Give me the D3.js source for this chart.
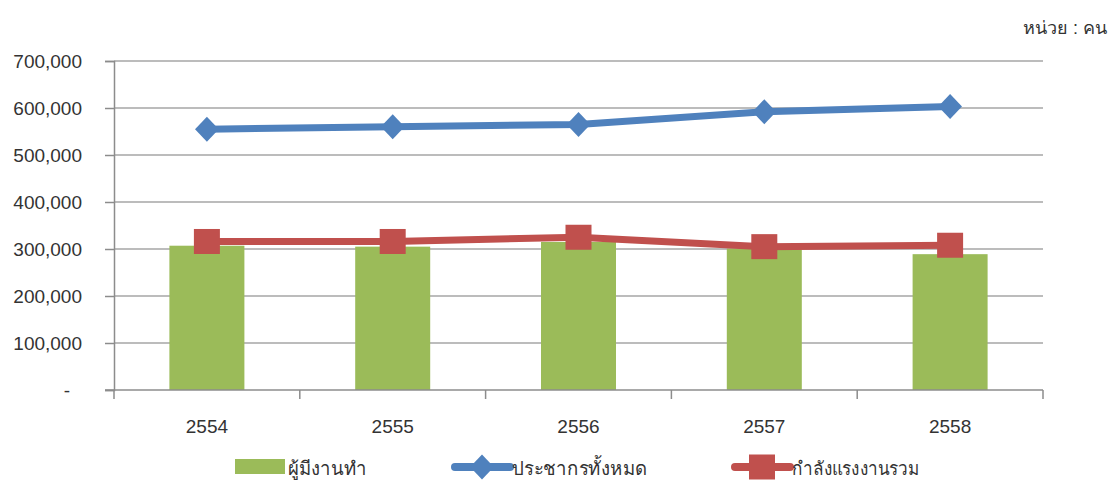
<!DOCTYPE html>
<html>
<head>
<meta charset="utf-8">
<script src="https://cdn.jsdelivr.net/npm/d3@7"></script>
<style>
  html, body { margin: 0; padding: 0; background: #fff; }
  svg { display: block; }
  text { font-family: "Liberation Sans", "Noto Sans", sans-serif; fill: #333; }
</style>
</head>
<body>
<svg id="chart" width="1109" height="482"></svg>
<script>
// ---- data ----
const years = ["2554", "2555", "2556", "2557", "2558"];
const employed = [307000, 305000, 315000, 301000, 289000];        // ผู้มีงานทำ (bars)
const population = [555000, 560000, 565000, 592000, 603000];      // ประชากรทั้งหมด (blue line)
const laborForce = [316000, 316000, 325000, 305000, 308000];      // กำลังแรงงานรวม (red line)
const yTicks = [0, 100000, 200000, 300000, 400000, 500000, 600000, 700000];
const seriesNames = ["ผู้มีงานทำ", "ประชากรทั้งหมด", "กำลังแรงงานรวม"];
const unitLabel = "หน่วย : คน";

// ---- layout ----
const colors = { green: "#9BBB59", blue: "#4F81BD", red: "#C0504D", grid: "#A6A6A6", axis: "#8C8C8C" };
const plotL = 114, plotR = 1043, plotT = 61, plotB = 390;
const svg = d3.select("#chart");

const xc = d3.scalePoint().domain(years).range([plotL, plotR]).padding(0.5);
const y = d3.scaleLinear().domain([0, 700000]).range([plotB, plotT]);

// gridlines
svg.append("g").selectAll("line").data(yTicks.filter(d => d > 0)).join("line")
  .attr("x1", plotL).attr("x2", plotR)
  .attr("y1", d => y(d)).attr("y2", d => y(d))
  .attr("stroke", colors.grid).attr("stroke-width", 1.5);

// y axis
const yAxis = d3.axisLeft(y).tickValues(yTicks).tickSize(9).tickPadding(23)
  .tickFormat(d => d === 0 ? "-" : d3.format(",")(d));
const gy = svg.append("g").attr("transform", `translate(${plotL},0)`).call(yAxis);
gy.select(".domain").attr("stroke", colors.axis).attr("stroke-width", 1.5);
gy.selectAll(".tick line").attr("stroke", colors.axis).attr("stroke-width", 1.5);
gy.selectAll(".tick text").attr("font-size", 19).attr("fill", "#333")
  .attr("font-family", "Liberation Sans, sans-serif")
  .attr("dx", d => d === 0 ? -12 : 0);

// bars
svg.append("g").selectAll("rect").data(years).join("rect")
  .attr("x", (d) => xc(d) - 37.5)
  .attr("width", 75)
  .attr("y", (d, i) => y(employed[i]))
  .attr("height", (d, i) => plotB - y(employed[i]))
  .attr("fill", colors.green);

// x axis
const xAxisScale = d3.scaleBand().domain(years).range([plotL, plotR]);
const xAxis = d3.axisBottom(xAxisScale).tickSize(0).tickPadding(30);
const gx = svg.append("g").attr("transform", `translate(0,${plotB})`).call(xAxis);
gx.select(".domain").remove();
gx.append("line").attr("x1", plotL - 9).attr("x2", plotR).attr("y1", 0).attr("y2", 0)
  .attr("stroke", colors.axis).attr("stroke-width", 1.5);
const bounds = years.map(d => xAxisScale(d)).concat([plotR]);
gx.selectAll(".sep").data(bounds).join("line").attr("class", "sep")
  .attr("x1", d => d).attr("x2", d => d).attr("y1", 0).attr("y2", 9)
  .attr("stroke", colors.axis).attr("stroke-width", 1.5);
gx.selectAll(".tick text").attr("font-size", 19).attr("fill", "#333")
  .attr("font-family", "Liberation Sans, sans-serif");

// lines
const line = d3.line().x(d => xc(d[0])).y(d => y(d[1]));
const diamond = (cx, cy, s) => `M${cx},${cy - s}L${cx + s * 0.95},${cy}L${cx},${cy + s}L${cx - s * 0.95},${cy}Z`;

svg.append("path").datum(years.map((d, i) => [d, population[i]]))
  .attr("d", line).attr("fill", "none").attr("stroke", colors.blue)
  .attr("stroke-width", 7).attr("stroke-linejoin", "round");
svg.append("g").selectAll("path").data(years).join("path")
  .attr("d", (d, i) => diamond(xc(d), y(population[i]), 12.5))
  .attr("fill", colors.blue);

svg.append("path").datum(years.map((d, i) => [d, laborForce[i]]))
  .attr("d", line).attr("fill", "none").attr("stroke", colors.red)
  .attr("stroke-width", 7).attr("stroke-linejoin", "round");
svg.append("g").selectAll("rect").data(years).join("rect")
  .attr("x", d => xc(d) - 13).attr("width", 26)
  .attr("y", (d, i) => y(laborForce[i]) - 12.5).attr("height", 25)
  .attr("fill", colors.red);

// legend
const lg = svg.append("g");
const legendY = 467;
lg.append("rect").attr("x", 235).attr("y", legendY - 8).attr("width", 50).attr("height", 15).attr("fill", colors.green);
lg.append("text").attr("x", 288).attr("y", legendY + 8).attr("font-size", 19)
  .attr("textLength", 79).attr("lengthAdjust", "spacingAndGlyphs").text(seriesNames[0]);

lg.append("line").attr("x1", 455).attr("x2", 510).attr("y1", legendY).attr("y2", legendY)
  .attr("stroke", colors.blue).attr("stroke-width", 8).attr("stroke-linecap", "round");
lg.append("path").attr("d", diamond(482, legendY, 12.5)).attr("fill", colors.blue);
lg.append("text").attr("x", 512).attr("y", legendY + 8).attr("font-size", 19)
  .attr("textLength", 135).attr("lengthAdjust", "spacingAndGlyphs").text(seriesNames[1]);

lg.append("line").attr("x1", 735).attr("x2", 790).attr("y1", legendY).attr("y2", legendY)
  .attr("stroke", colors.red).attr("stroke-width", 8).attr("stroke-linecap", "round");
lg.append("rect").attr("x", 749).attr("y", legendY - 12.5).attr("width", 26).attr("height", 25).attr("fill", colors.red);
lg.append("text").attr("x", 792).attr("y", legendY + 8).attr("font-size", 19)
  .attr("textLength", 128).attr("lengthAdjust", "spacingAndGlyphs").text(seriesNames[2]);

// unit label
svg.append("text").attr("x", 1107).attr("y", 34).attr("text-anchor", "end")
  .attr("font-size", 18).text(unitLabel);
</script>
</body>
</html>
